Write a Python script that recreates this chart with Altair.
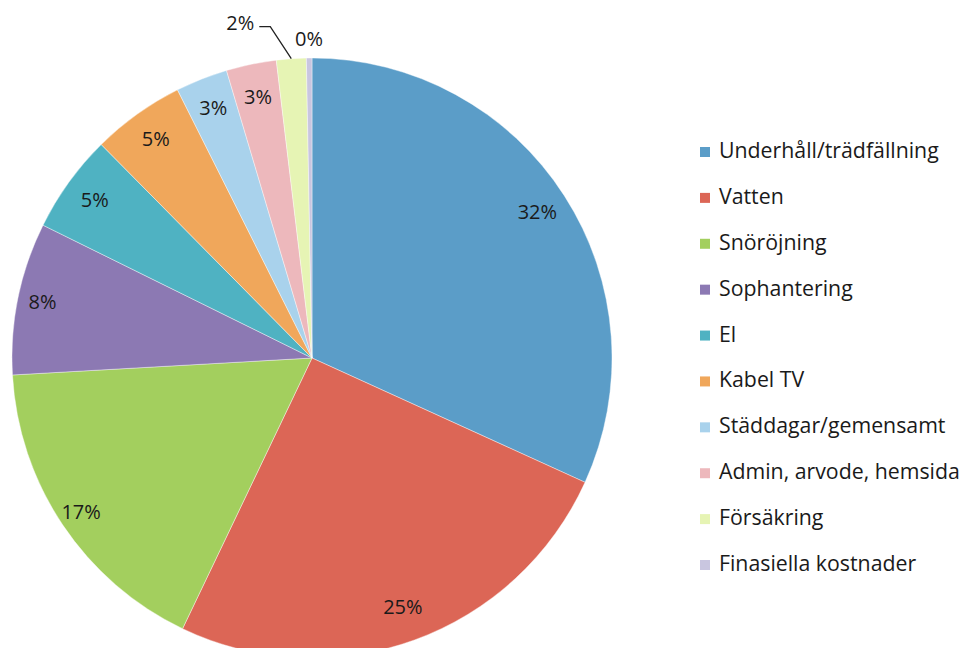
import math
import altair as alt
import pandas as pd

categories = ["Underhåll/trädfällning", "Vatten", "Snöröjning", "Sophantering", "El",
              "Kabel TV", "Städdagar/gemensamt", "Admin, arvode, hemsida", "Försäkring",
              "Finasiella kostnader"]
values = [31.8, 25.3, 17.0, 8.2, 5.3, 5.0, 2.8, 2.7, 1.6, 0.3]
colors = ["#5B9DC8", "#DC6656", "#A3CF5E", "#8C79B3", "#4FB2C2",
          "#F0A75B", "#A9D2EC", "#EDB8BC", "#E6F4B4", "#C9C6E0"]

FONT = "Open Sans"
CX, CY, R = 304, 350, 300
total = sum(values)

labels = [f"{round(v)}%" for v in values]
# label radius: inside end for regular slices, outside for the thin ones
label_r = [268, 266, 278, 275, 268, 268, 268, 266, 0, 318]
inside_text = labels[:8] + ["", labels[9]]

df = pd.DataFrame({
    "category": categories,
    "value": values,
    "idx": list(range(len(values))),
    "label": inside_text,
    "lr": label_r,
})

color_scale = alt.Scale(domain=categories, range=colors)

arcs = alt.Chart(df).mark_arc(radius=R, stroke="#ffffff", strokeWidth=0.4).encode(
    theta=alt.Theta("value:Q", stack=True),
    order=alt.Order("idx:Q"),
    color=alt.Color("category:N", scale=color_scale, legend=None),
    x=alt.value(CX), y=alt.value(CY),
)

texts = alt.Chart(df).transform_window(
    cum="sum(value)", sort=[alt.SortField("idx")]
).transform_calculate(
    midv="datum.cum - datum.value / 2"
).mark_text(font=FONT, fontSize=20, color="#1a1a1a").encode(
    theta=alt.Theta("midv:Q", stack=None,
                    scale=alt.Scale(domain=[0, total], range=[0, 2 * math.pi])),
    radius=alt.Radius("lr:Q", scale=None),
    text="label:N",
    x=alt.value(CX), y=alt.value(CY),
)

# leader line for the small "Försäkring" slice, anchored at its mid-angle
cum_before = sum(values[:8])
mid = (cum_before + values[8] / 2) / total * 2 * math.pi
ex = CX + R * math.sin(mid)
ey = CY - R * math.cos(mid)
kx, ky = ex - 21, ey - 32
lx, ly = kx - 11, ky
leader_df = pd.DataFrame({"px": [ex, kx, lx], "py": [ey, ky, ly], "o": [0, 1, 2]})
leader = alt.Chart(leader_df).mark_line(color="#222222", strokeWidth=1.3).encode(
    x=alt.X("px:Q", scale=None), y=alt.Y("py:Q", scale=None), order="o:Q"
)
small_df = pd.DataFrame({"px": [lx - 5], "py": [ly - 3], "t": [labels[8]]})
small_lbl = alt.Chart(small_df).mark_text(font=FONT, fontSize=20, color="#1a1a1a",
                                          align="right", baseline="middle").encode(
    x=alt.X("px:Q", scale=None), y=alt.Y("py:Q", scale=None), text="t:N"
)

# legend
leg = alt.Chart(df).encode(
    y=alt.Y("category:N", sort=categories,
            scale=alt.Scale(type="point", range=[144, 557], padding=0), axis=None),
)
leg_sym = leg.mark_square(size=100, opacity=1).encode(
    x=alt.value(697),
    color=alt.Color("category:N", scale=color_scale, legend=None),
)
leg_txt = leg.mark_text(font=FONT, fontSize=21.3, color="#1a1a1a", align="left",
                        baseline="middle").encode(
    x=alt.value(711), text="category:N"
)

chart = alt.layer(arcs, texts, leader, small_lbl, leg_sym, leg_txt).properties(
    width=958, height=640,
    autosize=alt.AutoSizeParams(type="none"),
    padding=0,
).resolve_scale(y="independent", theta="independent").configure_view(stroke=None)

chart.save("out.html", embed_options={"renderer": "svg", "actions": False})
